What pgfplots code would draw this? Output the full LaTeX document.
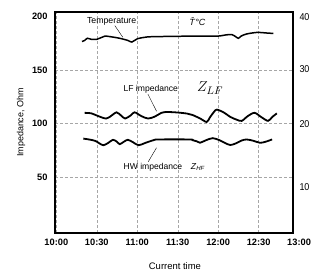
\documentclass[border=0pt]{standalone}
\usepackage{fontspec}
\setmainfont{Liberation Sans}
\newfontfamily\narrow[FakeStretch=0.9]{Liberation Sans}
\usepackage{pgfplots}
\pgfplotsset{compat=1.18}
\begin{document}
\begin{tikzpicture}
\begin{axis}[
  at={(0,0)}, anchor=south west, scale only axis,
  width=238bp, height=221bp,
  xmin=-1, xmax=175.5, ymin=-2, ymax=204,
  axis line style={line width=1.4pt},
  xtick={0,30,60,90,120,150},
  xticklabels={10:00,10:30,11:00,11:30,12:00,12:30},
  ytick={50,100,150}, yticklabels={50,100,150},
  extra y ticks={200}, extra y tick labels={200},
  extra y tick style={grid=none},
  grid=major, grid style={densely dashed, gray!70, line width=0.4pt},
  major tick length=0pt,
  tick label style={font=\bfseries\fontsize{9.3}{10}\selectfont},
  xticklabel style={yshift=-3pt},
  yticklabel style={xshift=-4pt},
  ylabel={Impedance, Ohm}, xlabel={Current time},
  ylabel style={at={(axis description cs:-0.143,0.5)}, anchor=center, font=\fontsize{9}{10}\selectfont},
  xlabel style={at={(axis description cs:0.504,-0.152)}, anchor=center, font=\fontsize{9.5}{10}\selectfont},
  clip=false,
]
% Temperature (plotted on left scale)
\addplot[black, line width=1.5pt, smooth] coordinates {
(19,176.5)(21,177.5)(23,179.5)(26,178.5)(30,178.5)(33,180)(36,181.5)(40,181)(47,179.5)(53,177.5)(56,176)(60,179)(66,180.5)(72,181)(100,181.5)(119,181.5)(125,182.5)(130,183)(133,181)(135,179.5)(137,181.5)(141,183.5)(149,185)(155,184.5)(161,184)
};
% LF impedance
\addplot[black, line width=1.8pt, smooth] coordinates {
(21,110)(26,109.5)(31,107)(37,104.7)(41,107.5)(44.6,110.5)(48,107.5)(51,104.7)(55,107.5)(58,110.5)(63,107)(68,104.7)(73,106.5)(78,110)(82,110.8)(90,110.3)(97,109.3)(101,108)(107,104.5)(111.5,101.5)(114,106)(117,111)(119,113)(124,110.5)(129,106.2)(134,103.5)(137.5,102.5)(142,107)(147,110)(152,106)(157,102.5)(160,106)(163.5,109.5)
};
% HW impedance
\addplot[black, line width=1.8pt, smooth] coordinates {
(20,86)(25,85)(29,83.8)(32,81.5)(35,79.8)(38.5,82)(42,84.9)(45,83)(47,80.8)(50,83)(53,84.9)(57,82.5)(61,79.8)(66,82)(72,84.5)(76,85.2)(99,85.2)(101,84.5)(104,83.5)(106.5,82.1)(111,84.5)(116,86.4)(121,84.5)(125,82)(129,80)(133,81.5)(137,84)(141,85.2)(146,84)(151,82.1)(155,83)(160,85.2)
};
\node[font=\fontsize{8.8}{10}\selectfont] at (axis cs:41,195) {Temperature};
\draw[line width=0.4pt] (axis cs:43.4,191.3) -- (axis cs:49.3,180.4);
\node[font=\fontsize{9}{10}\selectfont] at (axis cs:104.6,195.2) {\textit{\={T}\kern0.05em°C}};
\node[font=\fontsize{8.6}{10}\selectfont] at (axis cs:70,132) {LF impedance};
\draw[line width=0.4pt] (axis cs:67.9,127.5) -- (axis cs:74.3,111.5);
\node at (axis cs:114,133) {\fontsize{15}{15}\selectfont $Z_{LF}$};
\node[font=\fontsize{8.6}{10}\selectfont] at (axis cs:71.6,59.3) {HW impedance};
\node[font=\fontsize{8.6}{10}\selectfont] at (axis cs:105,59.3) {\textit{Z}\textsubscript{\textit{HF}}};
\draw[line width=0.4pt] (axis cs:74.3,77.5) -- (axis cs:68.1,64.3);
\node[anchor=north, inner sep=0.3333em, yshift=-3pt, font=\bfseries\fontsize{9.3}{10}\selectfont] at (axis cs:180,-2) {13:00};
\end{axis}
\begin{axis}[
  at={(0,0)}, anchor=south west, scale only axis,
  width=238bp, height=221bp,
  xmin=-1, xmax=175.5, ymin=-2, ymax=204,
  axis y line*=right, axis x line=none,
  axis line style={line width=1.4pt},
  ytick={199,151,100,41}, yticklabels={40,30,20,10},
  major tick length=0pt,
  yticklabel style={font=\narrow\fontsize{10}{11}\selectfont, xshift=3pt},
]
\end{axis}
\pgfresetboundingbox
\useasboundingbox (-55bp,-40bp) rectangle (259bp,233bp);
\end{tikzpicture}
\end{document}
